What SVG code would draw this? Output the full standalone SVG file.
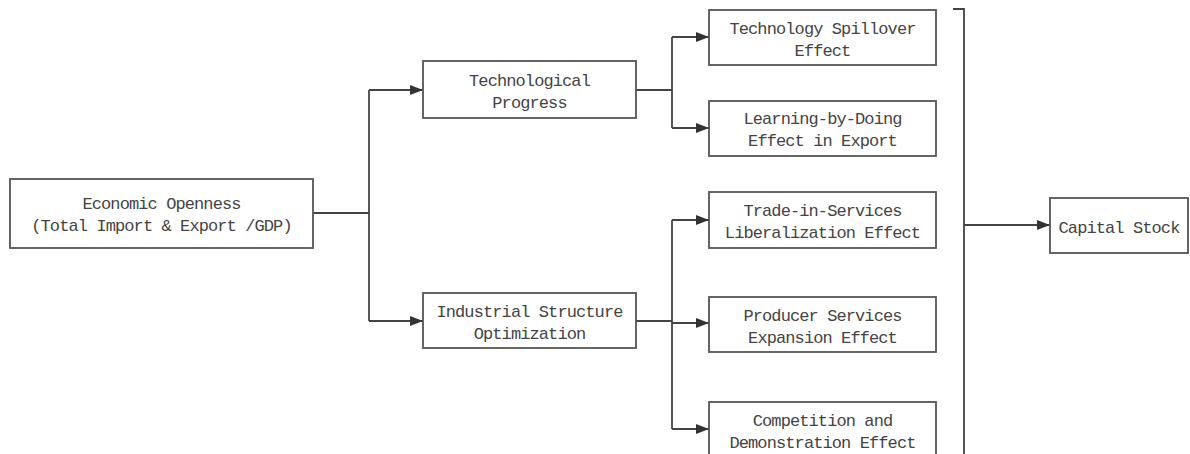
<svg xmlns="http://www.w3.org/2000/svg" width="1190" height="454" viewBox="0 0 1190 454">
<style>
.box{fill:#fff;stroke:#555;stroke-width:1.8}
.t{font-family:"Liberation Mono","DejaVu Sans Mono",monospace;font-size:17px;letter-spacing:-0.9px;fill:#444;text-anchor:middle}
.c{fill:none;stroke:#444;stroke-width:1.8}
</style>
<defs>
<marker id="ah" markerUnits="userSpaceOnUse" markerWidth="14" markerHeight="12" refX="13" refY="6" orient="auto">
<path d="M0,1 L13,6 L0,11 Z" fill="#333"/>
</marker>
</defs>
<rect width="1190" height="454" fill="#fff"/>
<g id="connectors">
<path class="c" d="M313,213 H369"/>
<path class="c" d="M369,90 V321"/>
<path class="c" d="M369,90 H423" marker-end="url(#ah)"/>
<path class="c" d="M369,321 H423" marker-end="url(#ah)"/>
<path class="c" d="M636,90 H672"/>
<path class="c" d="M672,37 V128"/>
<path class="c" d="M672,37 H709" marker-end="url(#ah)"/>
<path class="c" d="M672,128 H709" marker-end="url(#ah)"/>
<path class="c" d="M636,321 H672"/>
<path class="c" d="M672,220 V429"/>
<path class="c" d="M672,220 H709" marker-end="url(#ah)"/>
<path class="c" d="M672,323 H709" marker-end="url(#ah)"/>
<path class="c" d="M672,429 H709" marker-end="url(#ah)"/>
<path class="c" d="M953,9 H964 V460"/>
<path class="c" d="M964,225 H1050" marker-end="url(#ah)"/>
</g>
<g id="n-open">
<rect class="box" x="10" y="179" width="303" height="69"/>
<text class="t" x="161.5" y="208.5">Economic Openness</text>
<text class="t" x="161.5" y="230.5">(Total Import &amp; Export /GDP)</text>
</g>
<g id="n-tech">
<rect class="box" x="423" y="61" width="213" height="57"/>
<text class="t" x="529.5" y="85.5">Technological</text>
<text class="t" x="529.5" y="107.5">Progress</text>
</g>
<g id="n-ind">
<rect class="box" x="423" y="293" width="213" height="55"/>
<text class="t" x="529.5" y="316.5">Industrial Structure</text>
<text class="t" x="529.5" y="338.5">Optimization</text>
</g>
<g id="n-spill">
<rect class="box" x="709" y="10" width="227" height="55"/>
<text class="t" x="822.5" y="33.5">Technology Spillover</text>
<text class="t" x="822.5" y="55.5">Effect</text>
</g>
<g id="n-learn">
<rect class="box" x="709" y="101" width="227" height="55"/>
<text class="t" x="822.5" y="123.5">Learning-by-Doing</text>
<text class="t" x="822.5" y="145.5">Effect in Export</text>
</g>
<g id="n-trade">
<rect class="box" x="709" y="192" width="227" height="56"/>
<text class="t" x="822.5" y="215.5">Trade-in-Services</text>
<text class="t" x="822.5" y="237.5">Liberalization Effect</text>
</g>
<g id="n-prod">
<rect class="box" x="709" y="297" width="227" height="55"/>
<text class="t" x="822.5" y="320.5">Producer Services</text>
<text class="t" x="822.5" y="342.5">Expansion Effect</text>
</g>
<g id="n-comp">
<rect class="box" x="709" y="402" width="227" height="70"/>
<text class="t" x="822.5" y="425.5">Competition and</text>
<text class="t" x="822.5" y="447.5">Demonstration Effect</text>
</g>
<g id="n-cap">
<rect class="box" x="1050" y="198" width="138" height="55"/>
<text class="t" x="1119" y="232.5">Capital Stock</text>
</g>
</svg>
